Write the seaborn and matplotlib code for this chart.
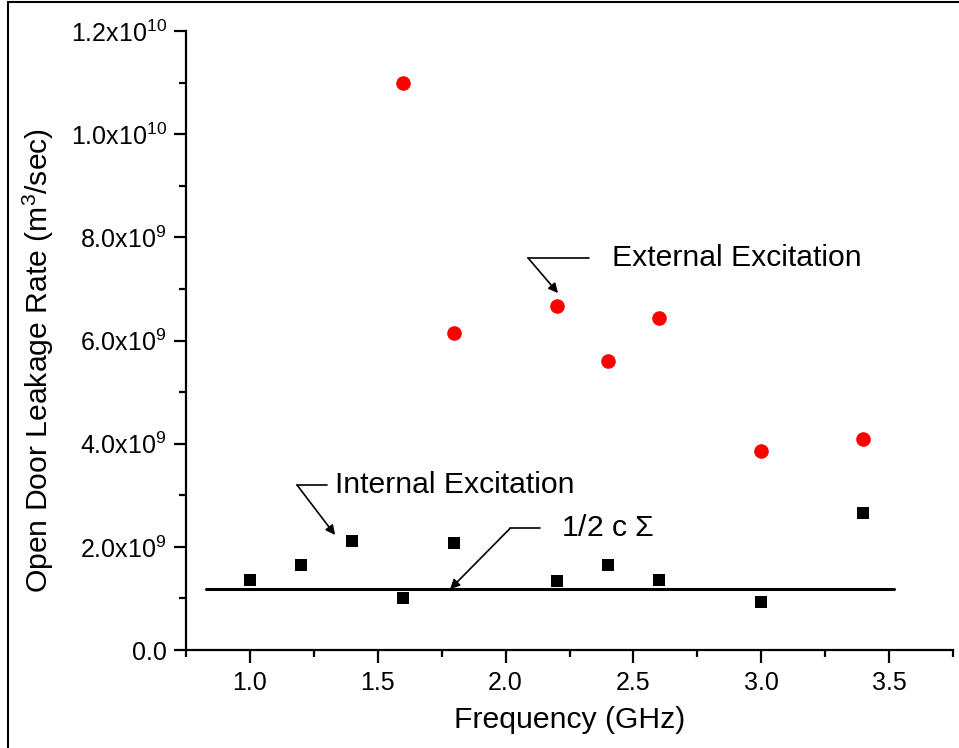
import matplotlib
matplotlib.use('Agg')
import matplotlib.pyplot as plt
from matplotlib.ticker import AutoMinorLocator, FuncFormatter, MultipleLocator
from matplotlib.lines import Line2D
import pandas as pd
import seaborn as sns

# data
ext_freq = [1.6, 1.8, 2.2, 2.4, 2.6, 3.0, 3.4]
ext_rate = [1.099e10, 6.14e9, 6.67e9, 5.60e9, 6.43e9, 3.86e9, 4.09e9]
int_freq = [1.0, 1.2, 1.4, 1.6, 1.8, 2.2, 2.4, 2.6, 3.0, 3.4]
int_rate = [1.36e9, 1.65e9, 2.11e9, 1.01e9, 2.07e9, 1.34e9, 1.65e9, 1.36e9, 0.93e9, 2.66e9]
half_c_sigma_freq = [0.83, 3.52]
half_c_sigma_rate = [1.18e9, 1.18e9]

sns.set_style('ticks')
plt.rcParams['font.family'] = ['Liberation Sans', 'DejaVu Sans']
plt.rcParams['mathtext.fontset'] = 'custom'
plt.rcParams['mathtext.rm'] = 'Liberation Sans'
plt.rcParams['mathtext.it'] = 'Liberation Sans:italic'
plt.rcParams['mathtext.default'] = 'regular'
for k in ['text.color', 'axes.labelcolor', 'xtick.color', 'ytick.color', 'axes.edgecolor']:
    plt.rcParams[k] = 'black'

ext_df = pd.DataFrame({'freq': ext_freq, 'rate': ext_rate})
int_df = pd.DataFrame({'freq': int_freq, 'rate': int_rate})
line_df = pd.DataFrame({'freq': half_c_sigma_freq, 'rate': half_c_sigma_rate})

fig = plt.figure(figsize=(9.59, 7.48), dpi=100)
ax = fig.add_axes([0.194, 0.131, 0.7997, 0.8275])

sns.lineplot(data=line_df, x='freq', y='rate', color='black', linewidth=2.2, ax=ax)
sns.scatterplot(data=int_df, x='freq', y='rate', marker='s', color='black', s=85,
                edgecolor='black', linewidth=0, ax=ax)
sns.scatterplot(data=ext_df, x='freq', y='rate', marker='o', color='red', s=110,
                edgecolor='red', linewidth=0, ax=ax)

ax.set_xlim(0.75, 3.75)
ax.set_ylim(0, 1.2e10)
ax.xaxis.set_major_locator(MultipleLocator(0.5))
ax.yaxis.set_major_locator(MultipleLocator(2e9))
ax.xaxis.set_minor_locator(AutoMinorLocator(2))
ax.yaxis.set_minor_locator(AutoMinorLocator(2))


def sci_fmt(v, pos):
    if v == 0:
        return '0.0'
    e = 0
    m = v
    while abs(m) >= 10:
        m /= 10
        e += 1
    return f'{m:.1f}x10$^{{{e}}}$'


ax.yaxis.set_major_formatter(FuncFormatter(sci_fmt))
ax.xaxis.set_major_formatter(FuncFormatter(lambda v, p: f'{v:.1f}'))

sns.despine(ax=ax)
for sp in ['left', 'bottom']:
    ax.spines[sp].set_linewidth(1.6)
ax.tick_params(which='major', direction='out', length=9, width=1.6, labelsize=18, pad=5)
ax.tick_params(which='minor', direction='out', length=5, width=1.6)
ax.tick_params(axis='x', which='major', pad=6)

ax.set_xlabel('Frequency (GHz)', fontsize=21.7, labelpad=8)
ax.set_ylabel('Open Door Leakage Rate (m$^3$/sec)', fontsize=21.7)
ax.yaxis.set_label_coords(-0.17, 0.467)

# annotations
ax.plot([2.088, 2.327], [7.6e9, 7.6e9], color='black', linewidth=1.2)
ax.annotate('', xy=(2.205, 6.92e9), xytext=(2.088, 7.6e9),
            arrowprops=dict(arrowstyle='-|>', color='black', lw=1.2, mutation_scale=14,
                            shrinkA=0, shrinkB=0))
ax.text(2.417, 7.6e9, 'External Excitation', fontsize=21.7, va='center', ha='left')

ax.plot([1.184, 1.301], [3.2e9, 3.2e9], color='black', linewidth=1.2)
ax.annotate('', xy=(1.333, 2.23e9), xytext=(1.184, 3.2e9),
            arrowprops=dict(arrowstyle='-|>', color='black', lw=1.2, mutation_scale=14,
                            shrinkA=0, shrinkB=0))
ax.text(1.333, 3.2e9, 'Internal Excitation', fontsize=21.7, va='center', ha='left')

ax.plot([2.018, 2.135], [2.36e9, 2.36e9], color='black', linewidth=1.2)
ax.annotate('', xy=(1.783, 1.18e9), xytext=(2.018, 2.36e9),
            arrowprops=dict(arrowstyle='-|>', color='black', lw=1.2, mutation_scale=14,
                            shrinkA=0, shrinkB=0))
ax.text(2.215, 2.36e9, '1/2 c $\\Sigma$', fontsize=21.7, va='center', ha='left')

# outer frame (left and top edges visible)
fig.add_artist(Line2D([8 / 959, 8 / 959], [0, 1 - 2 / 748], transform=fig.transFigure,
                      color='black', linewidth=1.5))
fig.add_artist(Line2D([8 / 959, 1], [1 - 2 / 748, 1 - 2 / 748], transform=fig.transFigure,
                      color='black', linewidth=1.5))

fig.savefig('out.png', dpi=100)
